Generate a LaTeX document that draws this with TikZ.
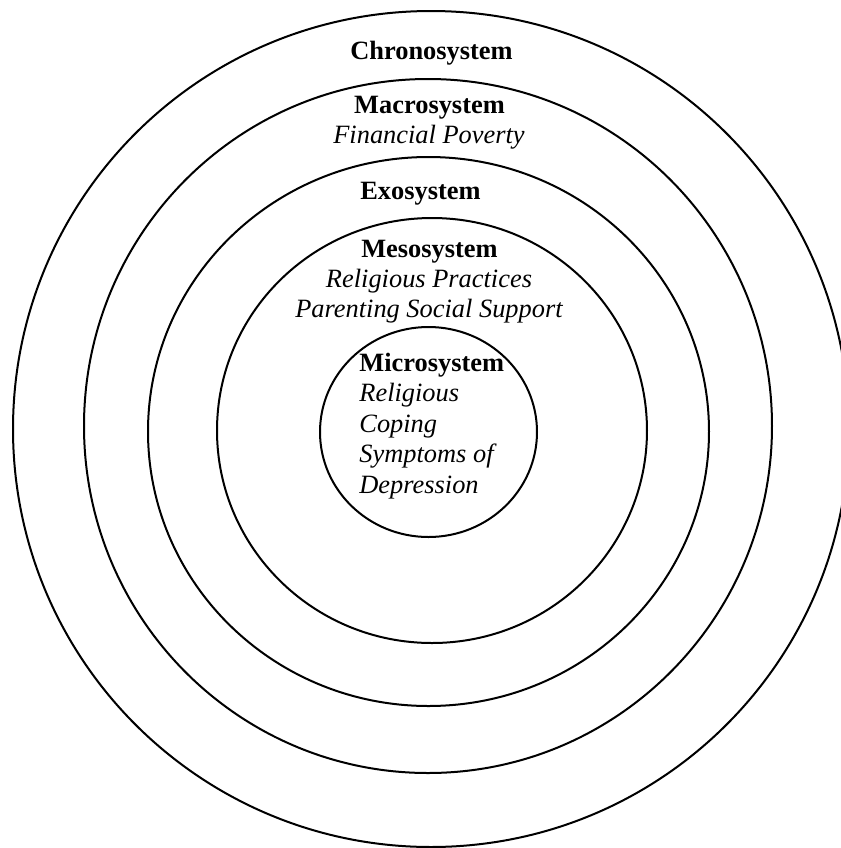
\documentclass[tikz,border=0pt]{standalone}
\usepackage{fontspec}
\setmainfont{Liberation Serif}
\usetikzlibrary{shapes.geometric}

\begin{document}
\begin{tikzpicture}[
  ring/.style    = {draw, ellipse, line width=1pt, inner sep=0pt},
  sysname/.style = {inner sep=0pt, anchor=base, font=\fontsize{13.2}{15}\selectfont\bfseries},
  sysitem/.style = {inner sep=0pt, anchor=base, font=\fontsize{13.2}{15}\selectfont\itshape},
  x=0.5pt, y=-0.5pt,
]
  \useasboundingbox (0,0) rectangle (841,848);

  % rings, outer to inner
  \node[ring, minimum width=418pt, minimum height=418pt] (chrono) at (431,429) {};
  \node[ring, minimum width=344pt, minimum height=347pt] (macro)  at (428,426) {};
  \node[ring, minimum width=280.5pt, minimum height=274.5pt] (exo) at (428.5,431.5) {};
  \node[ring, minimum width=215pt, minimum height=212.5pt] (meso) at (432,430.5) {};
  \node[ring, minimum width=108.5pt, minimum height=105pt] (micro) at (428.5,432) {};

  % labels
  \node[sysname] (tchrono) at (431.5,59) {Chronosystem};
  \node[sysname] (tmacro)  at (429.5,113) {Macrosystem};
  \node[sysitem] (tpoverty) at (429,143) {Financial Poverty};
  \node[sysname] (texo)    at (420.5,199) {Exosystem};
  \node[sysname] (tmeso)   at (429.5,257) {Mesosystem};
  \node[sysitem] (tpractice) at (429,287) {Religious Practices};
  \node[sysitem] (tsupport)  at (429,317) {Parenting Social Support};
  \node[sysname, anchor=base west] (tmicro) at (359,371) {Microsystem};
  \node[sysitem, anchor=base west] (treligious) at (359,401.5) {Religious};
  \node[sysitem, anchor=base west] (tcoping)    at (359,432) {Coping};
  \node[sysitem, anchor=base west] (tsymptoms)  at (359,462.5) {Symptoms of};
  \node[sysitem, anchor=base west] (tdepress)   at (359,493) {Depression};
\end{tikzpicture}
\end{document}
